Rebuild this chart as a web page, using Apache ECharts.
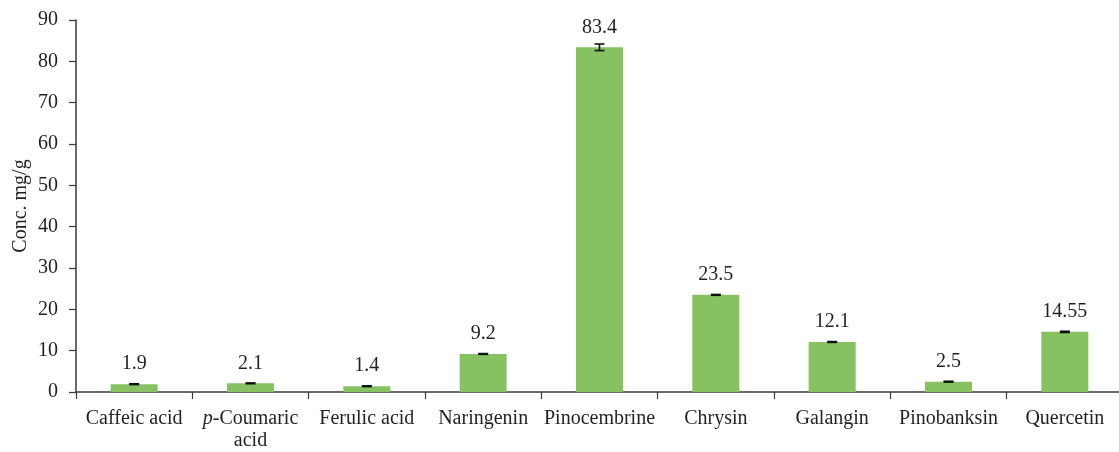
<!DOCTYPE html>
<html><head><meta charset="utf-8">
<script src="https://cdn.jsdelivr.net/npm/echarts@6/dist/echarts.min.js"></script>
<style>html,body{margin:0;padding:0;background:#fff}#c{width:1119px;height:452px}</style>
</head><body><div id="c"></div>
<script>
var categories = ["Caffeic acid", "p-Coumaric acid", "Ferulic acid", "Naringenin", "Pinocembrine", "Chrysin", "Galangin", "Pinobanksin", "Quercetin"];
var values = [1.9, 2.1, 1.4, 9.2, 83.4, 23.5, 12.1, 2.5, 14.55];
var valueLabels = ["1.9", "2.1", "1.4", "9.2", "83.4", "23.5", "12.1", "2.5", "14.55"];
var errors = [0.1, 0.1, 0.1, 0.1, 0.8, 0.1, 0.1, 0.1, 0.15];
var yTicks = [0, 10, 20, 30, 40, 50, 60, 70, 80, 90];

var FONT = "Liberation Serif";
var TXT = '#231f20';
var chart = echarts.init(document.getElementById('c'), null, {renderer: 'canvas'});
var errData = values.map(function (v, i) { return [i, v - errors[i], v + errors[i]]; });

chart.setOption({
  animation: false,
  grid: {left: 76, top: 20, bottom: 60, width: 1047, containLabel: false, outerBoundsMode: 'none'},
  xAxis: {
    type: 'category',
    data: categories,
    axisLine: {lineStyle: {color: '#3a3a3a', width: 1.5}},
    axisTick: {show: true, length: 7, lineStyle: {color: '#3a3a3a', width: 1.2}},
    axisLabel: {
      interval: 0, margin: 16, color: TXT, fontFamily: FONT, fontSize: 20, lineHeight: 22,
      formatter: function (v) {
        if (v === "p-Coumaric acid") return "{i|p}-Coumaric\nacid";
        return v;
      },
      rich: {i: {fontStyle: 'italic', fontFamily: FONT, fontSize: 20, lineHeight: 22, color: TXT}}
    }
  },
  yAxis: {
    type: 'value', min: yTicks[0], max: yTicks[yTicks.length - 1], interval: 10,
    name: 'Conc. mg/g', nameLocation: 'middle', nameGap: 45, nameRotate: 90, nameMoveOverlap: false,
    nameTextStyle: {fontFamily: FONT, fontSize: 20, color: TXT},
    axisLine: {show: true, lineStyle: {color: '#3a3a3a', width: 1.5}},
    axisTick: {show: true, length: 7, lineStyle: {color: '#3a3a3a', width: 1.2}},
    splitLine: {show: false},
    axisLabel: {margin: 18, color: TXT, fontFamily: FONT, fontSize: 20}
  },
  series: [{
    type: 'bar', data: values, barWidth: 47,
    itemStyle: {color: '#86c262'},
    label: {
      show: true, position: 'top', distance: 10, fontFamily: FONT, fontSize: 20, color: TXT,
      formatter: function (p) { return valueLabels[p.dataIndex]; }
    }
  }, {
    type: 'custom', data: errData, z: 5,
    renderItem: function (params, api) {
      var x = api.value(0);
      var lo = api.coord([x, api.value(1)]);
      var hi = api.coord([x, api.value(2)]);
      var hw = 5;
      var st = {stroke: '#111', lineWidth: 1.6};
      return {type: 'group', children: [
        {type: 'line', shape: {x1: lo[0], y1: lo[1], x2: hi[0], y2: hi[1]}, style: st},
        {type: 'line', shape: {x1: lo[0] - hw, y1: lo[1], x2: lo[0] + hw, y2: lo[1]}, style: st},
        {type: 'line', shape: {x1: hi[0] - hw, y1: hi[1], x2: hi[0] + hw, y2: hi[1]}, style: st}
      ]};
    }
  }]
});
</script></body></html>
